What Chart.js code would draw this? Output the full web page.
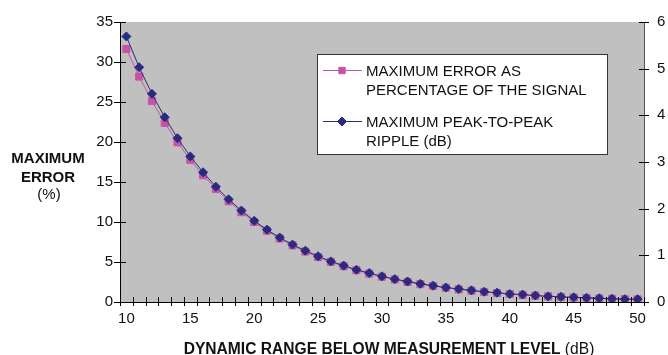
<!DOCTYPE html>
<html>
<head>
<meta charset="utf-8">
<script src="https://cdn.jsdelivr.net/npm/chart.js@4"></script>
<style>
  html, body { margin: 0; padding: 0; background: #fff; }
  #wrap { width: 668px; height: 355px; position: relative; }
</style>
</head>
<body>
<div id="wrap"><canvas id="chart" width="668" height="355"></canvas></div>
<script>
// --- Data ---
const rangeDb = [10, 11, 12, 13, 14, 15, 16, 17, 18, 19, 20, 21, 22, 23, 24, 25, 26, 27, 28, 29, 30,
                 31, 32, 33, 34, 35, 36, 37, 38, 39, 40, 41, 42, 43, 44, 45, 46, 47, 48, 49, 50];

// maximum error as percentage of the signal (left axis, %)
const errorPct = [31.62, 28.18, 25.12, 22.39, 19.95, 17.78, 15.85, 14.13, 12.59, 11.22, 10.00,
                  8.91, 7.94, 7.08, 6.31, 5.62, 5.01, 4.47, 3.98, 3.55, 3.16,
                  2.82, 2.51, 2.24, 2.00, 1.78, 1.58, 1.41, 1.26, 1.12, 1.00,
                  0.89, 0.79, 0.71, 0.63, 0.56, 0.50, 0.45, 0.40, 0.35, 0.32];

// maximum peak-to-peak ripple (right axis, dB)
const rippleDb = [5.69, 5.03, 4.46, 3.96, 3.51, 3.12, 2.78, 2.47, 2.20, 1.96, 1.74,
                  1.55, 1.38, 1.23, 1.10, 0.98, 0.87, 0.78, 0.69, 0.62, 0.55,
                  0.49, 0.44, 0.39, 0.35, 0.31, 0.28, 0.25, 0.22, 0.20, 0.17,
                  0.16, 0.14, 0.12, 0.11, 0.10, 0.09, 0.08, 0.07, 0.06, 0.06];

const legendLabels = [
    ['MAXIMUM ERROR AS', 'PERCENTAGE OF THE SIGNAL'],
    ['MAXIMUM PEAK-TO-PEAK', 'RIPPLE (dB)'],
];

const colors = {
    pink: '#c853a6',
    navy: '#2a2b7e',
    plotBg: '#c0c0c0',
    axis: '#000',
    rightAxis: '#555',
};

const FONT = '"Liberation Sans", Arial, Helvetica, sans-serif';

// --- Plugins ---
const plotBackground = {
    id: 'plotBackground',
    beforeDraw(chart) {
        const { ctx, chartArea: a } = chart;
        ctx.save();
        ctx.fillStyle = colors.plotBg;
        ctx.fillRect(a.left, a.top, a.right - a.left, a.bottom - a.top);
        ctx.restore();
    },
};

// tick marks crossing the axis lines, plus titles and boxed legend
const decorations = {
    id: 'decorations',
    afterDraw(chart) {
        const { ctx, chartArea: a, scales } = chart;
        ctx.save();
        ctx.strokeStyle = '#000';
        ctx.lineWidth = 1;
        ctx.beginPath();

        // x ticks at category boundaries
        const x = scales.x;
        const step = x.getPixelForValue(1) - x.getPixelForValue(0);
        for (let i = 0; i <= rangeDb.length; i++) {
            const px = Math.round(x.getPixelForValue(i) - step / 2) + 0.5;
            ctx.moveTo(px, a.bottom - 5);
            ctx.lineTo(px, a.bottom + 4);
        }
        // left ticks
        scales.y.ticks.forEach(t => {
            const py = Math.round(scales.y.getPixelForValue(t.value)) + 0.5;
            ctx.moveTo(a.left - 6, py);
            ctx.lineTo(a.left + 6, py);
        });
        // right ticks
        scales.y1.ticks.forEach(t => {
            const py = Math.round(scales.y1.getPixelForValue(t.value)) + 0.5;
            ctx.moveTo(a.right - 5, py);
            ctx.lineTo(a.right + 5, py);
        });
        ctx.stroke();

        // y title
        ctx.fillStyle = '#111';
        ctx.textAlign = 'center';
        ctx.textBaseline = 'alphabetic';
        ctx.font = 'bold 15px ' + FONT;
        ctx.fillText('MAXIMUM', 48, 163);
        ctx.fillText('ERROR', 48, 182);
        ctx.font = '15px ' + FONT;
        ctx.fillText('(%)', 49, 199);

        // x title: bold part + regular "(dB)"
        const boldPart = 'DYNAMIC RANGE BELOW MEASUREMENT LEVEL ';
        const regPart = '(dB)';
        ctx.font = 'bold 15.6px ' + FONT;
        const wb = ctx.measureText(boldPart).width;
        ctx.font = '15.6px ' + FONT;
        const wr = ctx.measureText(regPart).width;
        const startX = 389 - (wb + wr) / 2;
        ctx.textAlign = 'left';
        ctx.font = 'bold 15.6px ' + FONT;
        ctx.fillText(boldPart, startX, 354);
        ctx.font = '15.6px ' + FONT;
        ctx.fillText(regPart, startX + wb, 354);

        // legend box
        ctx.fillStyle = '#fff';
        ctx.fillRect(317, 54, 291, 101);
        ctx.strokeStyle = '#333';
        ctx.strokeRect(317.5, 54.5, 290, 100);

        const entries = [
            { color: colors.pink, style: 'rect', y: 70 },
            { color: colors.navy, style: 'rectRot', y: 121 },
        ];
        entries.forEach((e, i) => {
            ctx.strokeStyle = e.color;
            ctx.beginPath();
            ctx.moveTo(323, e.y + 0.5);
            ctx.lineTo(362, e.y + 0.5);
            ctx.stroke();
            ctx.fillStyle = e.color;
            Chart.helpers.drawPoint(ctx, { pointStyle: e.style, radius: 4.5, borderWidth: 1 }, 342, e.y + 0.5);
            ctx.fillStyle = '#111';
            ctx.font = '15px ' + FONT;
            ctx.fillText(legendLabels[i][0], 366, e.y + 6);
            ctx.fillText(legendLabels[i][1], 366, e.y + 25);
        });
        ctx.restore();
    },
};

// --- Chart ---
new Chart(document.getElementById('chart'), {
    type: 'line',
    data: {
        labels: rangeDb.map(String),
        datasets: [
            {
                label: 'MAXIMUM PEAK-TO-PEAK RIPPLE (dB)',
                data: rippleDb,
                yAxisID: 'y1',
                borderColor: colors.navy,
                backgroundColor: colors.navy,
                borderWidth: 1,
                pointStyle: 'rectRot',
                pointRadius: 4.5,
                pointBorderWidth: 1,
                tension: 0,
                order: 0,
            },
            {
                label: 'MAXIMUM ERROR AS PERCENTAGE OF THE SIGNAL',
                data: errorPct,
                yAxisID: 'y',
                borderColor: colors.pink,
                backgroundColor: colors.pink,
                borderWidth: 1,
                pointStyle: 'rect',
                pointRadius: 5,
                pointBorderWidth: 1,
                tension: 0,
                order: 1,
            },
        ],
    },
    options: {
        responsive: false,
        animation: false,
        layout: { padding: { top: 16, left: 0, right: 0, bottom: 0 } },
        plugins: {
            legend: { display: false },
            tooltip: { enabled: false },
        },
        scales: {
            x: {
                type: 'category',
                offset: true,
                grid: { display: false, drawTicks: false },
                border: { display: true, color: colors.axis, width: 1 },
                ticks: {
                    autoSkip: false,
                    maxRotation: 0,
                    padding: 8,
                    color: '#111',
                    font: { family: FONT, size: 15 },
                    callback: (v, i) => (rangeDb[i] % 5 === 0 ? String(rangeDb[i]) : ''),
                },
                afterFit: s => { s.height = 53; },
            },
            y: {
                position: 'left',
                min: 0,
                max: 35,
                grid: { display: false, drawTicks: false },
                border: { display: true, color: colors.axis, width: 1 },
                ticks: {
                    stepSize: 5,
                    padding: 7,
                    color: '#111',
                    font: { family: FONT, size: 15 },
                },
                afterFit: s => { s.width = 120; },
            },
            y1: {
                position: 'right',
                min: 0,
                max: 6,
                grid: { display: false, drawTicks: false },
                border: { display: true, color: colors.rightAxis, width: 1 },
                ticks: {
                    stepSize: 1,
                    padding: 13,
                    color: '#111',
                    font: { family: FONT, size: 15 },
                },
                afterFit: s => { s.width = 24; },
            },
        },
    },
    plugins: [plotBackground, decorations],
});
</script>
</body>
</html>
